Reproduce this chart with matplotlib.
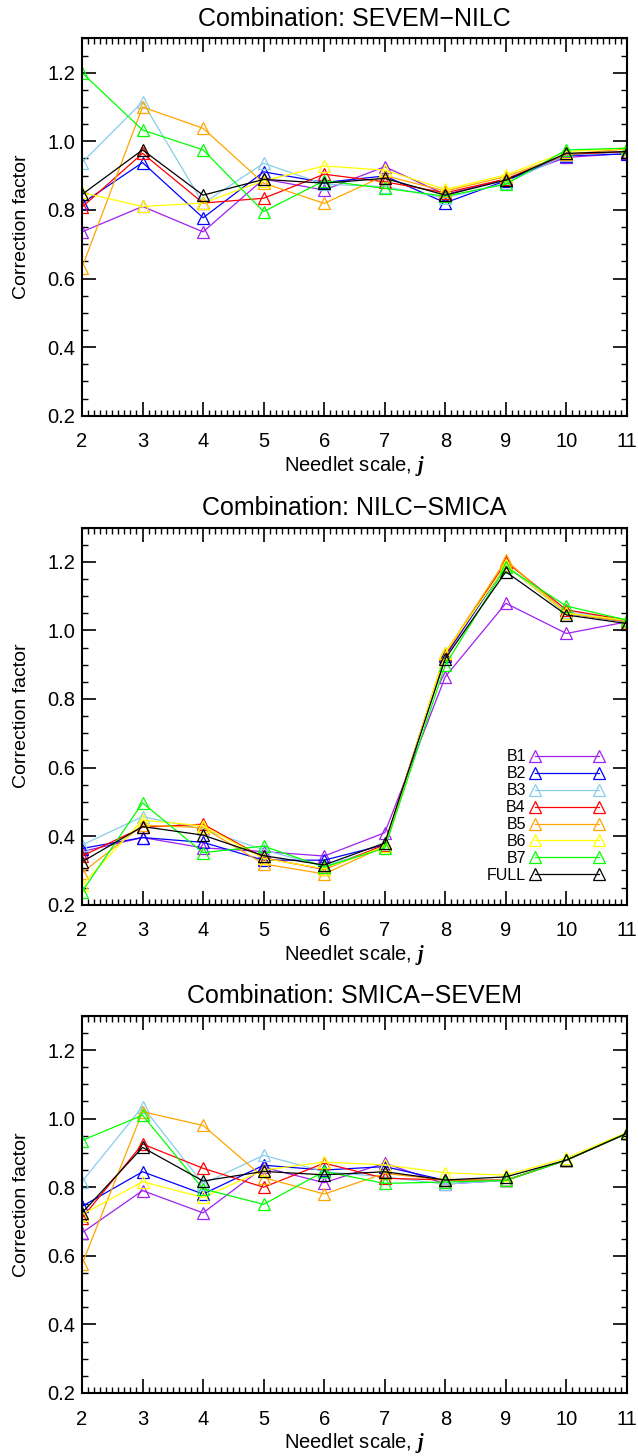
import numpy as np
import matplotlib
matplotlib.use('Agg')
import matplotlib.pyplot as plt
from matplotlib.ticker import MultipleLocator

plt.rcParams['font.family'] = ['Liberation Sans', 'DejaVu Sans']
plt.rcParams['mathtext.fontset'] = 'custom'
plt.rcParams['mathtext.bfit'] = 'Liberation Serif:bold:italic'

# Needlet scales
scales = [2, 3, 4, 5, 6, 7, 8, 9, 10, 11]

band_names = ['B1', 'B2', 'B3', 'B4', 'B5', 'B6', 'B7', 'FULL']
band_colors = ['#a020f0', '#0000ff', '#87ceeb', '#ff0000', '#ffa500', '#ffff00', '#00ff00', '#000000']

titles = ['Combination: SEVEM\u2212NILC', 'Combination: NILC\u2212SMICA', 'Combination: SMICA\u2212SEVEM']

# Correction factors, SEVEM-NILC
sevem_nilc_b1 = [0.736, 0.81, 0.736, 0.89, 0.858, 0.926, 0.845, 0.89, 0.953, 0.965]
sevem_nilc_b2 = [0.819, 0.938, 0.777, 0.911, 0.88, 0.899, 0.821, 0.885, 0.958, 0.963]
sevem_nilc_b3 = [0.938, 1.115, 0.819, 0.936, 0.875, 0.868, 0.835, 0.878, 0.96, 0.968]
sevem_nilc_b4 = [0.808, 0.965, 0.82, 0.834, 0.904, 0.882, 0.85, 0.89, 0.962, 0.97]
sevem_nilc_b5 = [0.632, 1.10, 1.038, 0.878, 0.819, 0.90, 0.855, 0.897, 0.962, 0.978]
sevem_nilc_b6 = [0.851, 0.81, 0.82, 0.885, 0.928, 0.916, 0.86, 0.902, 0.97, 0.98]
sevem_nilc_b7 = [1.20, 1.033, 0.975, 0.795, 0.885, 0.863, 0.84, 0.875, 0.975, 0.98]
sevem_nilc_full = [0.845, 0.975, 0.843, 0.889, 0.878, 0.892, 0.843, 0.887, 0.965, 0.97]

# Correction factors, NILC-SMICA
nilc_smica_b1 = [0.355, 0.396, 0.366, 0.355, 0.342, 0.41, 0.865, 1.079, 0.991, 1.025]
nilc_smica_b2 = [0.364, 0.396, 0.382, 0.33, 0.33, 0.375, 0.925, 1.19, 1.05, 1.025]
nilc_smica_b3 = [0.374, 0.457, 0.42, 0.36, 0.312, 0.37, 0.935, 1.19, 1.055, 1.03]
nilc_smica_b4 = [0.342, 0.426, 0.435, 0.337, 0.303, 0.375, 0.93, 1.2, 1.06, 1.03]
nilc_smica_b5 = [0.293, 0.432, 0.425, 0.319, 0.29, 0.37, 0.935, 1.205, 1.05, 1.025]
nilc_smica_b6 = [0.257, 0.447, 0.43, 0.335, 0.305, 0.37, 0.935, 1.19, 1.05, 1.03]
nilc_smica_b7 = [0.238, 0.497, 0.352, 0.371, 0.31, 0.365, 0.899, 1.185, 1.071, 1.03]
nilc_smica_full = [0.325, 0.428, 0.403, 0.343, 0.316, 0.38, 0.918, 1.171, 1.045, 1.02]

# Correction factors, SMICA-SEVEM
smica_sevem_b1 = [0.667, 0.79, 0.725, 0.858, 0.813, 0.87, 0.809, 0.82, 0.879, 0.957]
smica_sevem_b2 = [0.744, 0.845, 0.78, 0.864, 0.85, 0.86, 0.82, 0.82, 0.879, 0.957]
smica_sevem_b3 = [0.816, 1.035, 0.81, 0.893, 0.845, 0.83, 0.809, 0.82, 0.879, 0.957]
smica_sevem_b4 = [0.71, 0.926, 0.855, 0.80, 0.87, 0.826, 0.821, 0.82, 0.879, 0.957]
smica_sevem_b5 = [0.575, 1.02, 0.98, 0.828, 0.78, 0.84, 0.821, 0.82, 0.879, 0.957]
smica_sevem_b6 = [0.72, 0.816, 0.77, 0.85, 0.873, 0.865, 0.842, 0.835, 0.885, 0.96]
smica_sevem_b7 = [0.936, 1.01, 0.795, 0.75, 0.846, 0.811, 0.815, 0.82, 0.879, 0.957]
smica_sevem_full = [0.725, 0.916, 0.818, 0.846, 0.836, 0.845, 0.821, 0.83, 0.879, 0.957]

panels = [
    [sevem_nilc_b1, sevem_nilc_b2, sevem_nilc_b3, sevem_nilc_b4,
     sevem_nilc_b5, sevem_nilc_b6, sevem_nilc_b7, sevem_nilc_full],
    [nilc_smica_b1, nilc_smica_b2, nilc_smica_b3, nilc_smica_b4,
     nilc_smica_b5, nilc_smica_b6, nilc_smica_b7, nilc_smica_full],
    [smica_sevem_b1, smica_sevem_b2, smica_sevem_b3, smica_sevem_b4,
     smica_sevem_b5, smica_sevem_b6, smica_sevem_b7, smica_sevem_full],
]

fig = plt.figure(figsize=(6.38, 14.56), dpi=100)

# axes boxes (left, bottom, width, height) in figure fraction
boxes = [
    [0.1285, 0.7145, 0.8542, 0.2591],
    [0.1285, 0.3786, 0.8542, 0.2591],
    [0.1285, 0.0433, 0.8542, 0.2591],
]

for i, box in enumerate(boxes):
    ax = fig.add_axes(box)
    for name, color, values in zip(band_names, band_colors, panels[i]):
        ax.plot(scales, values, color=color, lw=0.9, marker='^', markersize=8,
                markerfacecolor='none', markeredgecolor=color, markeredgewidth=0.9,
                label=name)

    ax.set_xlim(2, 11)
    ax.set_ylim(0.2, 1.3)
    ax.xaxis.set_major_locator(MultipleLocator(1))
    ax.xaxis.set_minor_locator(MultipleLocator(0.1))
    ax.yaxis.set_major_locator(MultipleLocator(0.2))
    ax.yaxis.set_minor_locator(MultipleLocator(0.05))
    ax.yaxis.set_major_formatter(matplotlib.ticker.FormatStrFormatter('%.1f'))

    ax.tick_params(which='both', direction='in', top=True, right=True, labelsize=14.5, pad=5)
    ax.tick_params(which='major', length=10, width=1.2)
    ax.tick_params(which='minor', length=4, width=1.0)
    ax.tick_params(axis='x', which='major', pad=12)
    for spine in ax.spines.values():
        spine.set_linewidth(1.5)

    ax.set_title(titles[i], fontsize=18, pad=9)
    ax.set_xlabel(r'Needlet scale, $\mathbfit{j}$', fontsize=14.5, labelpad=2)
    ax.set_ylabel('Correction factor', fontsize=14, labelpad=12)

    if i == 1:
        ax.legend(loc='lower right', bbox_to_anchor=(0.958, 0.058), frameon=False,
                  markerfirst=False, numpoints=2, handlelength=4.6, handletextpad=0.3,
                  labelspacing=0.12, fontsize=11.5, borderpad=0, borderaxespad=0)

fig.savefig('out.png', dpi=100)
